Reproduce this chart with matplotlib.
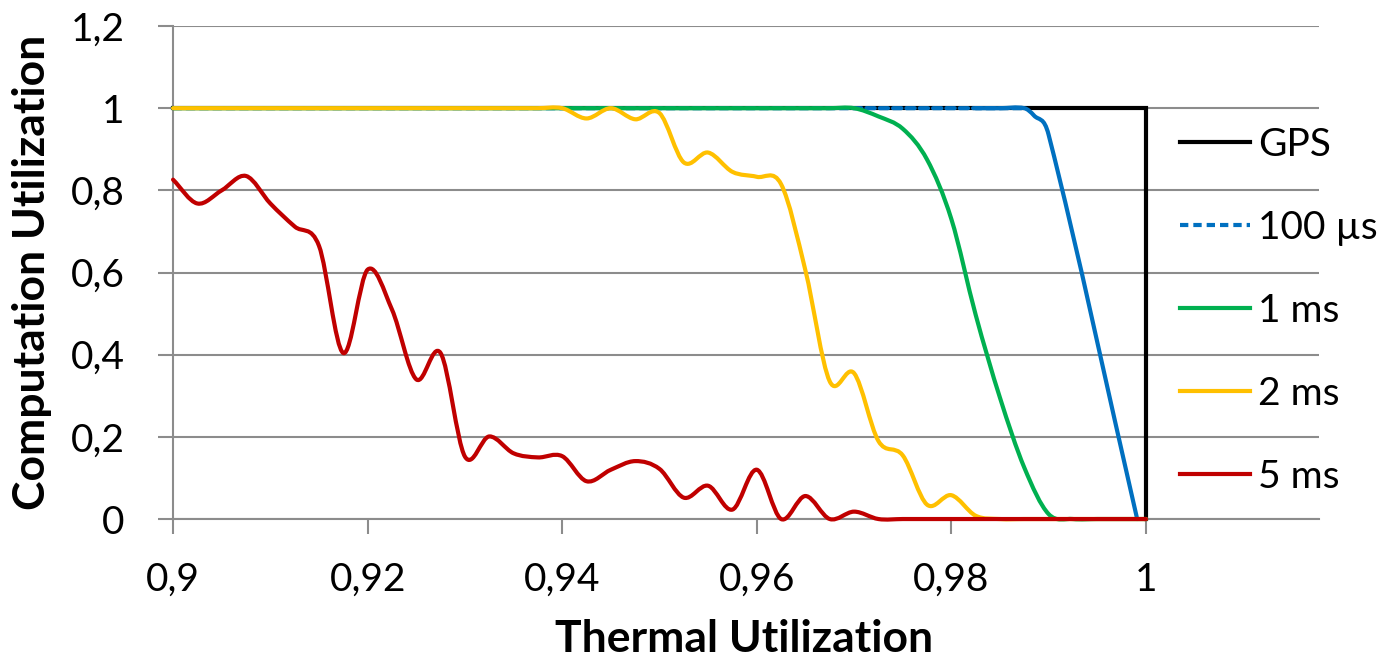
import matplotlib
matplotlib.use("Agg")
import matplotlib.pyplot as plt
from matplotlib.path import Path
from matplotlib.patches import PathPatch
from matplotlib.lines import Line2D

plt.rcParams['font.family'] = ['Lato', 'DejaVu Sans']

# thermal utilization samples shared by the delay series
thermal_util = [0.9, 0.9025, 0.905, 0.9075, 0.91, 0.9125, 0.915, 0.9175, 0.92, 0.9225,
                0.925, 0.9275, 0.93, 0.9325, 0.935, 0.9375, 0.94, 0.9425, 0.945, 0.9475,
                0.95, 0.9525, 0.955, 0.9575, 0.96, 0.9625, 0.965, 0.9675, 0.97, 0.9725,
                0.975, 0.9775, 0.98, 0.9825, 0.985, 0.9875, 0.99, 0.9925, 0.995, 0.9975, 1.0]

gps_x = [0.9, 1.0, 1.0]
gps_y = [1.0, 1.0, 0.0]

# 100 us falls almost straight to zero just before 1.0
us100_flat_y = [1.0] * 36
us100_fall_x = [0.9885, 0.99, 0.9991]
us100_fall_y = [0.982, 0.935, 0.0]

ms1_y = [1.0, 1.0, 1.0, 1.0, 1.0, 1.0, 1.0, 1.0, 1.0, 1.0,
         1.0, 1.0, 1.0, 1.0, 1.0, 1.0, 1.0, 1.0, 1.0, 1.0,
         1.0, 1.0, 1.0, 1.0, 1.0, 1.0, 1.0, 1.0, 1.0, 0.98,
         0.95, 0.875, 0.73, 0.497, 0.295, 0.125, 0.012, 0.0, 0.0, 0.0, 0.0]

ms2_y = [1.0, 1.0, 1.0, 1.0, 1.0, 1.0, 1.0, 1.0, 1.0, 1.0,
         1.0, 1.0, 1.0, 1.0, 1.0, 1.0, 1.0, 0.975, 1.0, 0.973,
         0.988, 0.868, 0.892, 0.845, 0.833, 0.815, 0.605, 0.335, 0.355, 0.19,
         0.155, 0.035, 0.058, 0.008, 0.0, 0.0, 0.0, 0.0, 0.0, 0.0, 0.0]

ms5_y = [0.826, 0.768, 0.80, 0.835, 0.768, 0.712, 0.665, 0.404, 0.607, 0.51,
         0.34, 0.404, 0.152, 0.201, 0.16, 0.15, 0.153, 0.092, 0.12, 0.141,
         0.122, 0.052, 0.081, 0.023, 0.12, 0.0, 0.056, 0.0, 0.018, 0.0,
         0.0, 0.0, 0.0, 0.0, 0.0, 0.0, 0.0, 0.0, 0.0, 0.0, 0.0]

x_ticks = [0.9, 0.92, 0.94, 0.96, 0.98, 1.0]
x_tick_labels = ["0,9", "0,92", "0,94", "0,96", "0,98", "1"]
y_ticks = [0, 0.2, 0.4, 0.6, 0.8, 1.0, 1.2]
y_tick_labels = ["0", "0,2", "0,4", "0,6", "0,8", "1", "1,2"]

GRID = "#8c8c8c"
DASH = (0, (2.0, 1.2))


def smooth_path(xs, ys):
    # cubic bezier through the points, like a spreadsheet "smoothed line"
    n = len(xs)
    slopes = []
    for i in range(n):
        a = max(i - 1, 0)
        b = min(i + 1, n - 1)
        slopes.append((ys[b] - ys[a]) / (xs[b] - xs[a]))
    verts = [(xs[0], ys[0])]
    codes = [Path.MOVETO]
    for i in range(n - 1):
        d = (xs[i + 1] - xs[i]) / 3
        verts += [(xs[i] + d, ys[i] + slopes[i] * d),
                  (xs[i + 1] - d, ys[i + 1] - slopes[i + 1] * d),
                  (xs[i + 1], ys[i + 1])]
        codes += [Path.CURVE4] * 3
    return Path(verts, codes)


def add_curve(ax, xs, ys, color, ls="-", z=3):
    patch = PathPatch(smooth_path(xs, ys), facecolor="none", edgecolor=color,
                      lw=3, ls=ls, zorder=z, clip_on=False, capstyle="round",
                      joinstyle="round")
    ax.add_patch(patch)


fig = plt.figure(figsize=(13.9, 6.57), dpi=100)
ax = fig.add_axes([0.1245, 0.21, 0.8245, 0.7504])

ax.plot(gps_x, gps_y, color="black", lw=3, zorder=3, clip_on=False,
        solid_joinstyle="miter")

# 100 us: flat part dashed, falling part solid
us100_x = thermal_util[:36] + us100_fall_x
us100_y = us100_flat_y + us100_fall_y
add_curve(ax, us100_x[:36], us100_y[:36], "#0070c0", ls=DASH, z=4)
add_curve(ax, us100_x[33:], us100_y[33:], "#0070c0", z=4)
add_curve(ax, thermal_util, ms1_y, "#00b050", z=5)
add_curve(ax, thermal_util, ms2_y, "#ffc000", z=6)
add_curve(ax, thermal_util, ms5_y, "#c00000", z=7)

ax.set_xlim(0.9, 1.0178)
ax.set_ylim(0, 1.2)
ax.set_xticks(x_ticks)
ax.set_xticklabels(x_tick_labels)
ax.set_yticks(y_ticks)
ax.set_yticklabels(y_tick_labels)
ax.tick_params(axis="both", labelsize=28, length=11, width=1.5, color=GRID)
ax.tick_params(axis="y", pad=24)
ax.tick_params(axis="x", pad=20)
ax.grid(axis="y", color=GRID, lw=1.5, zorder=1)
ax.set_axisbelow(True)
for side in ["top", "right"]:
    ax.spines[side].set_visible(False)
for side in ["left", "bottom"]:
    ax.spines[side].set_color(GRID)
    ax.spines[side].set_linewidth(1.5)

ax.set_xlabel("Thermal Utilization", fontsize=32, fontweight="bold", va="center")
ax.xaxis.set_label_coords(0.498, -0.243)
ax.set_ylabel("Computation Utilization", fontsize=32, fontweight="bold", va="center")
ax.yaxis.set_label_coords(-0.123, 0.5)

handles = [
    Line2D([], [], color="black", lw=3),
    Line2D([], [], color="#0070c0", lw=3, ls=DASH),
    Line2D([], [], color="#00b050", lw=3),
    Line2D([], [], color="#ffc000", lw=3),
    Line2D([], [], color="#c00000", lw=3),
]
labels = ["GPS", "100 µs", "1 ms", "2 ms", "5 ms"]
fig.legend(handles, labels, loc="center left", bbox_to_anchor=(0.849, 0.527),
           frameon=False, fontsize=28, handlelength=1.8, handletextpad=0.2,
           labelspacing=1.21, borderpad=0, borderaxespad=0)

fig.savefig("out.png", dpi=100)
